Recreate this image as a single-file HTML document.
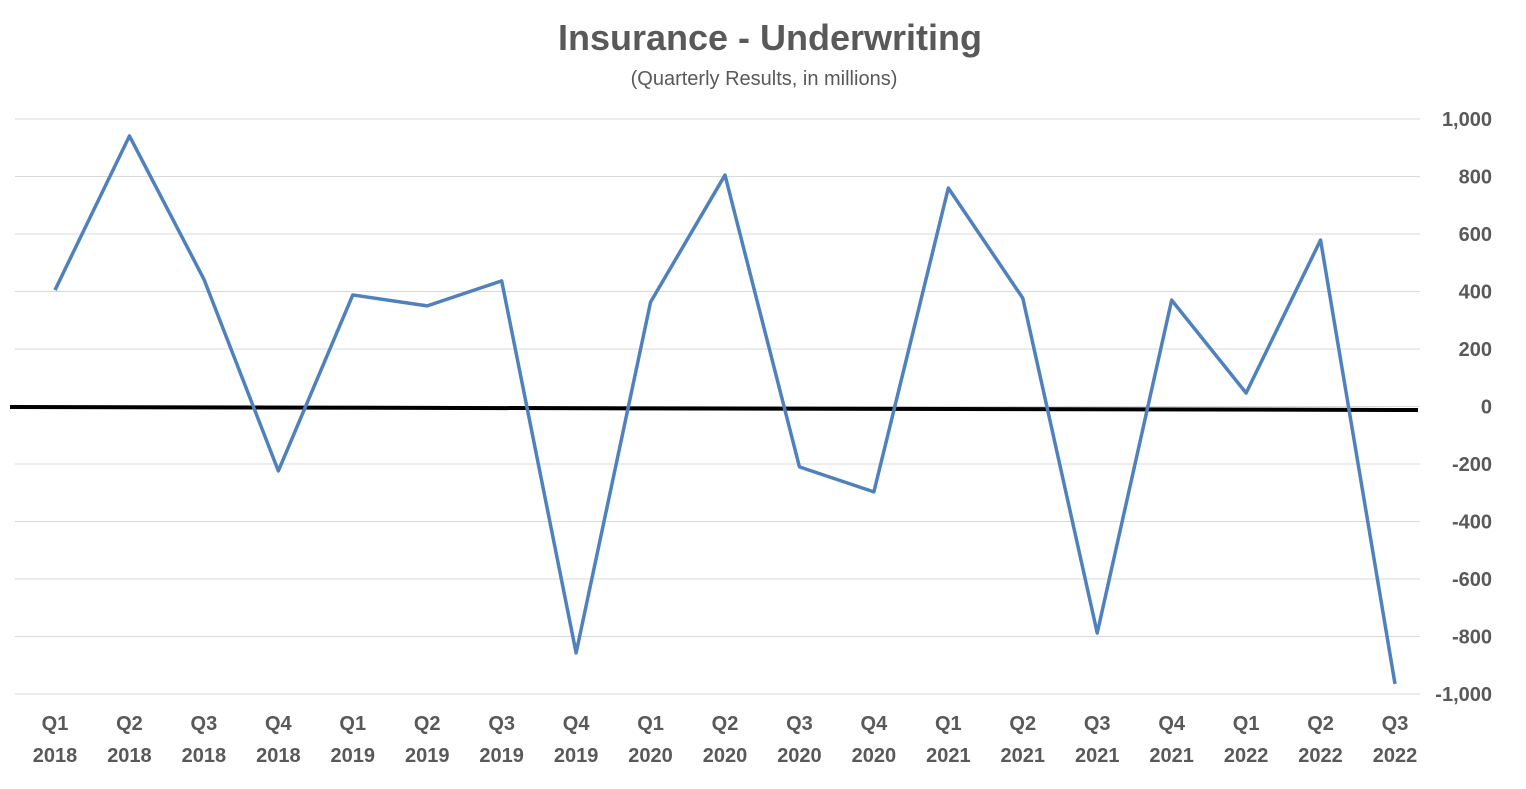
<!DOCTYPE html>
<html><head><meta charset="utf-8"><style>
body{margin:0;background:#fff;font-family:"Liberation Sans",sans-serif;}
</style></head><body>
<svg width="1526" height="784" xmlns="http://www.w3.org/2000/svg">
<text x="770" y="50" text-anchor="middle" font-size="36" font-weight="bold" fill="#595959">Insurance - Underwriting</text>
<text x="764" y="85" text-anchor="middle" font-size="20" fill="#595959">(Quarterly Results, in millions)</text>
<g id="grid"></g><g id="ylabels"></g><g id="xlabels"></g>
<line x1="10" y1="407" x2="1418" y2="410" stroke="#000" stroke-width="4"/>
<polyline id="series" fill="none" stroke="#4f81bd" stroke-width="3.5" stroke-linejoin="round"/>
</svg>
<script>
const quarters=["Q1","Q2","Q3","Q4","Q1","Q2","Q3","Q4","Q1","Q2","Q3","Q4","Q1","Q2","Q3","Q4","Q1","Q2","Q3"];
const years=["2018","2018","2018","2018","2019","2019","2019","2019","2020","2020","2020","2020","2021","2021","2021","2021","2022","2022","2022"];
const values=[405,941,443,-224,388,350,437,-857,363,805,-210,-297,760,377,-788,370,47,579,-965];
const yTicks=[1000,800,600,400,200,0,-200,-400,-600,-800,-1000];
const yTickLabels=["1,000","800","600","400","200","0","-200","-400","-600","-800","-1,000"];
const NS="http://www.w3.org/2000/svg";
const y=v=>406.5-v*0.2875;
const x=i=>55+i*(1340/18);
const grid=document.getElementById('grid'),yl=document.getElementById('ylabels'),xl=document.getElementById('xlabels');
yTicks.forEach((t,i)=>{
 const l=document.createElementNS(NS,'line');
 l.setAttribute('x1',15);l.setAttribute('x2',1420);l.setAttribute('y1',y(t));l.setAttribute('y2',y(t));
 l.setAttribute('stroke','#d9d9d9');l.setAttribute('stroke-width','1');
 
 
 grid.appendChild(l);
 const tx=document.createElementNS(NS,'text');
 tx.setAttribute('x',1492);tx.setAttribute('y',y(t)+7);tx.setAttribute('text-anchor','end');
 tx.setAttribute('font-size','20');tx.setAttribute('font-weight','bold');tx.setAttribute('fill','#595959');
 tx.textContent=yTickLabels[i];
 
 
 yl.appendChild(tx);
});
quarters.forEach((q,i)=>{
 const tx=document.createElementNS(NS,'text');
 tx.setAttribute('x',x(i));tx.setAttribute('text-anchor','middle');
 tx.setAttribute('font-size','20');tx.setAttribute('font-weight','bold');tx.setAttribute('fill','#595959');
 const a=document.createElementNS(NS,'tspan');a.setAttribute('x',x(i));a.setAttribute('y',730);a.textContent=q;
 const b=document.createElementNS(NS,'tspan');b.setAttribute('x',x(i));b.setAttribute('y',762);b.textContent=years[i];
 tx.appendChild(a);tx.appendChild(b);
 
 
 xl.appendChild(tx);
});
document.getElementById('series').setAttribute('points',values.map((v,i)=>x(i)+','+y(v)).join(' '));
</script>
</body></html>
